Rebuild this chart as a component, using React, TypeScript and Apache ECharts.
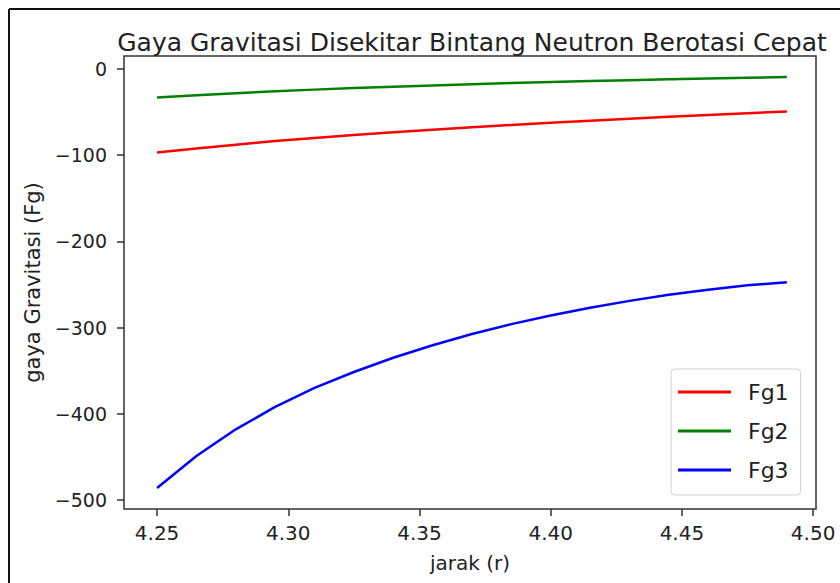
import React, { useEffect, useRef } from "react";
import * as echarts from "echarts";

const rValues = [4.25, 4.265, 4.28, 4.295, 4.31, 4.325, 4.34, 4.355, 4.37, 4.385, 4.4, 4.415, 4.43, 4.445, 4.46, 4.475, 4.49];
const fg1 = [-97, -92.2, -87.8, -83.7, -80, -76.6, -73.4, -70.4, -67.6, -65, -62.4, -60, -57.7, -55.5, -53.4, -51.3, -49.3];
const fg2 = [-33, -30.5, -28.2, -26, -24, -22.2, -20.6, -19.1, -17.7, -16.4, -15.2, -14.1, -13.1, -12.1, -11.2, -10.3, -9.5];
const fg3 = [-486, -449, -418, -392, -370, -351.5, -335, -320.5, -307.5, -296, -286, -277, -269, -262, -256, -251, -247.5];
const xTicks = [4.25, 4.3, 4.35, 4.4, 4.45, 4.5];
const yTicks = [-500, -400, -300, -200, -100, 0];
const seriesNames = ["Fg1", "Fg2", "Fg3"];
const seriesColors = ["#ff0000", "#008000", "#0000ff"];

const FONT = "DejaVu Sans";

export default function App() {
  const ref = useRef<HTMLDivElement>(null);
  useEffect(() => {
    if (!ref.current) return;
    const chart = echarts.init(ref.current, null, { renderer: "svg" });
    const all = [fg1, fg2, fg3];
    chart.setOption({
      animation: false,
      backgroundColor: "#ffffff",
      textStyle: { fontFamily: FONT },
      title: {
        text: "Gaya Gravitasi Disekitar Bintang Neutron Berotasi Cepat",
        left: 467,
        top: 25,
        textAlign: "center",
        textStyle: { fontFamily: FONT, fontSize: 25, fontWeight: "normal", color: "#222" },
      },
      grid: {
        left: 124,
        right: 24,
        top: 56,
        bottom: 74,
        show: true,
        borderColor: "#333",
        borderWidth: 1.5,
        backgroundColor: "transparent",
      },
      xAxis: {
        type: "value",
        min: 4.2374,
        max: 4.5011,
        name: "jarak (r)",
        nameLocation: "middle",
        nameGap: 44,
        nameTextStyle: { fontFamily: FONT, fontSize: 20, color: "#222" },
        splitLine: { show: false },
        axisLine: { show: false, onZero: false },
        axisTick: { show: true, length: 7, customValues: xTicks, lineStyle: { color: "#333", width: 1.5 } },
        axisLabel: {
          customValues: xTicks,
          margin: 14,
          fontFamily: FONT,
          fontSize: 20,
          color: "#222",
          formatter: (v: number) => v.toFixed(2),
        },
      },
      yAxis: {
        type: "value",
        min: -510.4,
        max: 15,
        name: "gaya Gravitasi (Fg)",
        nameLocation: "middle",
        nameGap: 76,
        nameRotate: 90,
        nameTextStyle: { fontFamily: FONT, fontSize: 21, color: "#222" },
        splitLine: { show: false },
        axisLine: { show: false, onZero: false },
        axisTick: { show: true, length: 7, customValues: yTicks, lineStyle: { color: "#333", width: 1.5 } },
        axisLabel: {
          customValues: yTicks,
          margin: 17,
          fontFamily: FONT,
          fontSize: 19,
          color: "#222",
          formatter: (v: number) => (v < 0 ? "\u2212" + Math.abs(v) : String(v)),
        },
      },
      legend: {
        orient: "vertical",
        left: 671,
        top: 369,
        data: seriesNames,
        icon: "rect",
        itemWidth: 53,
        itemHeight: 3,
        itemGap: 17,
        padding: [12, 12, 14, 7],
        borderColor: "#d0d0d0",
        borderWidth: 1,
        borderRadius: 4,
        backgroundColor: "rgba(255,255,255,0.8)",
        textStyle: { fontFamily: FONT, fontSize: 22, color: "#222", lineHeight: 22, padding: [0, 0, 0, 12] },
      },
      graphic: [
        { type: "line", shape: { x1: 9, y1: 9, x2: 840, y2: 9 }, style: { stroke: "#111", lineWidth: 2 } },
        { type: "line", shape: { x1: 9, y1: 9, x2: 9, y2: 583 }, style: { stroke: "#111", lineWidth: 2 } },
      ],
      series: seriesNames.map((name, i) => ({
        name,
        type: "line",
        data: rValues.map((r, j) => [r, all[i][j]]),
        showSymbol: false,
        symbol: "none",
        lineStyle: { color: seriesColors[i], width: 2.5 },
        itemStyle: { color: seriesColors[i] },
      })),
    });
    return () => chart.dispose();
  }, []);
  return <div ref={ref} style={{ position: "absolute", left: 0, top: 0, width: 840, height: 583 }} />;
}
